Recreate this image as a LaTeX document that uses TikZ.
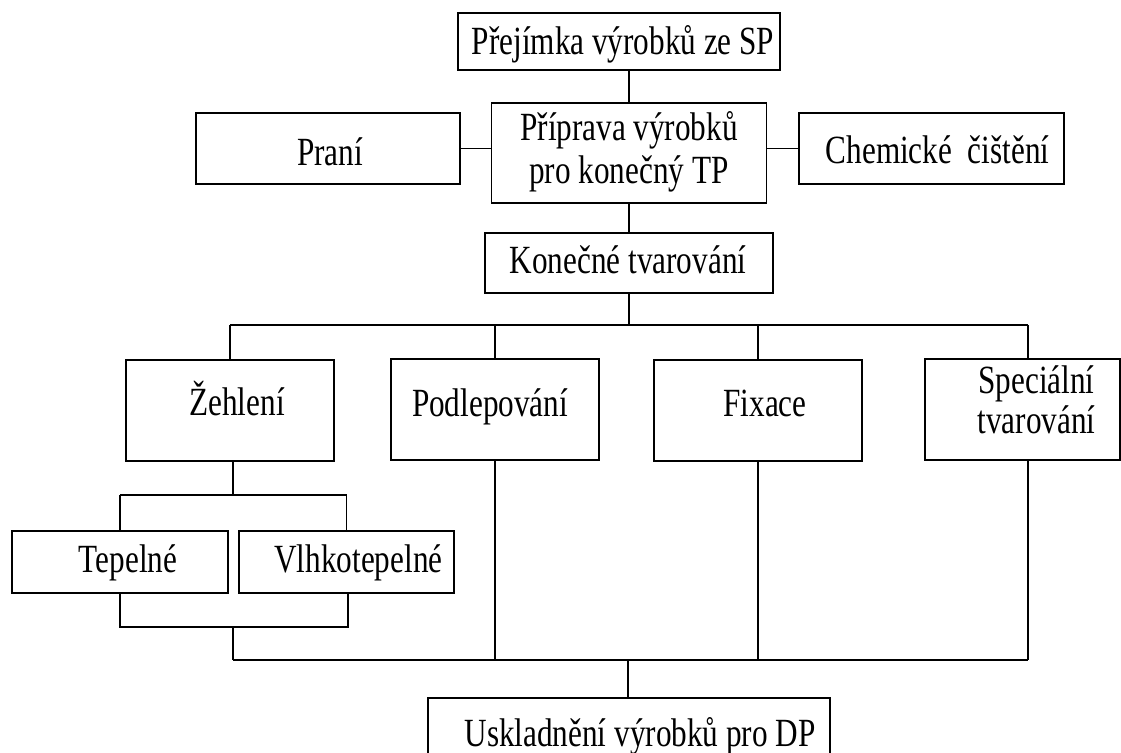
\documentclass[tikz,border=0pt]{standalone}
\usepackage{fontspec}
\setmainfont{Liberation Serif}[FakeStretch=0.78]
% #1 horizontal shift (2x), #2 raise, #3 text
\newcommand{\offs}[3]{\makebox[0pt]{\hspace*{#1}\raisebox{#2}[0pt][0pt]{#3}}}
\newcommand{\twol}[3]{\begin{tabular}[b]{@{}c@{}}#1\\[#3]#2\end{tabular}}
\begin{document}
\begin{tikzpicture}[x=0.75pt,y=-0.75pt,
  box/.style={draw, line width=1.3pt, inner sep=0pt, font=\fontsize{30pt}{32pt}\selectfont,
    text height=21pt, text depth=6pt},
  conn/.style={line width=1pt}]
\useasboundingbox (0,0) rectangle (1121,753);
\fill[white] (0,0) rectangle (1121,753);
% boxes
\node[box, minimum width=241.5pt, minimum height=42.75pt] (top) at (619,41.5) {\offs{6pt}{-2.6pt}{Přejímka výrobků ze SP}};
\node[box, minimum width=198pt, minimum height=53.25pt] (prani) at (328,148.5) {\offs{3pt}{-4.9pt}{Praní}};
\node[box, minimum width=206.25pt, minimum height=75pt] (mid) at (629,153) {\offs{0pt}{-15pt}{\twol{Příprava výrobků}{pro konečný TP}{0pt}}};
\node[box, minimum width=198.75pt, minimum height=53.25pt] (chem) at (931.5,148.5) {\offs{9pt}{-3.4pt}{Chemické\ \ čištění}};
\node[box, minimum width=216pt, minimum height=45pt] (kon) at (629,263) {\offs{-1.5pt}{0pt}{Konečné tvarování}};
\node[box, minimum width=156pt, minimum height=75.75pt] (zeh) at (230,410.5) {\offs{10.5pt}{3.4pt}{Žehlení}};
\node[box, minimum width=156pt, minimum height=75.75pt] (pod) at (495,409.5) {\offs{-7.5pt}{2.6pt}{Podlepování}};
\node[box, minimum width=156pt, minimum height=75.75pt] (fix) at (758,410.5) {\offs{10.5pt}{3pt}{Fixace}};
\node[box, minimum width=146.25pt, minimum height=75.75pt] (spec) at (1022.5,409.5) {\offs{21pt}{-10.5pt}{\twol{Speciální}{tvarování}{-2pt}}};
\node[box, minimum width=162pt, minimum height=46.5pt] (tep) at (120,562) {\offs{12pt}{0pt}{Tepelné}};
\node[box, minimum width=161.25pt, minimum height=46.5pt] (vlh) at (346.5,562) {\offs{18pt}{0pt}{Vlhkotepelné}};
\node[box, minimum width=301.5pt, minimum height=57pt] (usk) at (629,736) {\offs{16.5pt}{0pt}{Uskladnění výrobků pro DP}};
% bus coordinates
\coordinate (bL) at (230,325);
\coordinate (bR) at (1028,325);
\coordinate (zb) at (233,495);
\coordinate (tb) at (120,495);
\coordinate (vb) at (346.5,495);
\coordinate (jb) at (233,627);
\coordinate (jL) at (120,627);
\coordinate (jR) at (348,627);
\coordinate (lL) at (233,660);
\coordinate (lR) at (1028,660);
\coordinate (uj) at (628,660);
% connectors
\draw[conn] (mid.north) -- (mid.north |- top.south);
\draw[conn] (prani.east) -- (prani.east -| mid.west);
\draw[conn] (chem.west) -- (chem.west -| mid.east);
\draw[conn] (mid.south) -- (kon.north);
\draw[conn] (kon.south) -- (kon.south |- bL);
\draw[conn] (bL) -- (bR);
\draw[conn] (bL) -- (bL |- zeh.north);
\draw[conn] (pod.north) -- (pod.north |- bL);
\draw[conn] (fix.north) -- (fix.north |- bL);
\draw[conn] (bR) -- (bR |- spec.north);
\draw[conn] (zb |- zeh.south) -- (zb);
\draw[conn] (tb) -- (vb);
\draw[conn] (tb) -- (tb |- tep.north);
\draw[conn] (vb) -- (vb |- vlh.north);
\draw[conn] (jL |- tep.south) -- (jL) -- (jR) -- (jR |- vlh.south);
\draw[conn] (jb) -- (lL);
\draw[conn] (lL) -- (lR);
\draw[conn] (pod.south) -- (pod.south |- lL);
\draw[conn] (fix.south) -- (fix.south |- lL);
\draw[conn] (lR) -- (lR |- spec.south);
\draw[conn] (uj) -- (uj |- usk.north);
\end{tikzpicture}
\end{document}
